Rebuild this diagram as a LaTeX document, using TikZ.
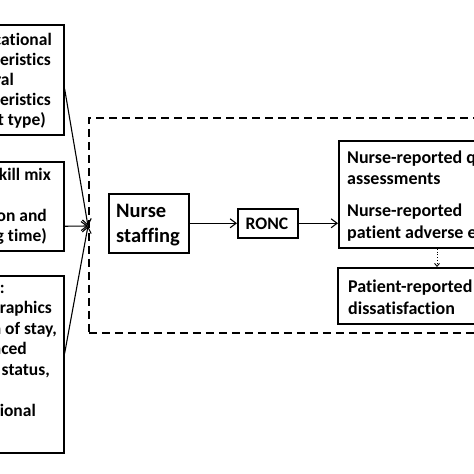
\documentclass[tikz,border=0pt]{standalone}
\usepackage{fontspec}
\setmainfont{Carlito}[Ligatures={NoCommon}]
\usetikzlibrary{arrows.meta,calc}
\begin{document}
\begin{tikzpicture}[x=1pt,y=-1pt,
  box/.style={draw,line width=1.6pt,inner sep=0pt,anchor=north west},
  lbl/.style={inner sep=0pt,font=\fontsize{17.5}{20}\selectfont\bfseries},
  mlbl/.style={inner sep=0pt,font=\fontsize{18}{22}\selectfont\bfseries},
  arr/.style={line width=1.1pt,-{Straight Barb[length=6pt,width=9pt]}},
  dotarr/.style={line width=0.9pt,dotted,-{Straight Barb[length=3pt,width=5pt]}},
  frame/.style={draw,line width=1.6pt,dash pattern=on 8pt off 5pt,inner sep=0pt,anchor=north west}]
\useasboundingbox (0,0) rectangle (474,474);
\fill[white] (0,0) rectangle (474,474);
\clip (0,0) rectangle (474,474);

% dashed frame
\node[frame,minimum width=420pt,minimum height=215pt] (fr) at (88,117) {};

% left boxes
\node[box,minimum width=123pt,minimum height=110pt] (b1) at (-60,24) {};
\node[lbl,anchor=base east] (b1l1) at (52,45) {Nurse educational};
\node[lbl,anchor=base east] (b1l2) at (51,65) {characteristics};
\node[lbl,anchor=base east] (b1l3) at (14,85) {Structural};
\node[lbl,anchor=base east] (b1l4) at (51,105) {characteristics};
\node[lbl,anchor=base east] (b1l5) at (46,125) {(unit type)};

\node[box,minimum width=123pt,minimum height=89pt] (b2) at (-60,161) {};
\node[lbl,anchor=base east] (b2l1) at (51,180) {Nurse staffing, skill mix};
\node[lbl,anchor=base east] (b2l3) at (47,221) {(education and};
\node[lbl,anchor=base east] (b2l4) at (47,241) {working time)};

\node[box,minimum width=123pt,minimum height=177pt] (b3) at (-60,275) {};
\node[lbl,anchor=base east] (b3l1) at (5,293) {Patient characteristics:};
\node[lbl,anchor=base east] (b3l2) at (52,313.5) {demographics};
\node[lbl,anchor=base east] (b3l3) at (57,334) {length of stay,};
\node[lbl,anchor=base east] (b3l4) at (27,354.5) {experienced};
\node[lbl,anchor=base east] (b3l5) at (50,375) {health status,};
\node[lbl,anchor=base east] (b3l7) at (36,416) {functional};

% inner boxes
\node[box,minimum width=80pt,minimum height=59pt] (ns) at (108,193) {};
\node[inner sep=0pt,anchor=base west,font=\fontsize{20.5}{25}\selectfont\bfseries] (nst1) at (116,217) {Nurse};
\node[inner sep=0pt,anchor=base west,font=\fontsize{20.5}{25}\selectfont\bfseries] (nst2) at (116,242) {staffing};

\node[box,minimum width=60pt,minimum height=29pt] (ronc) at (237,208) {};
\node[mlbl,anchor=base,font=\fontsize{17.6}{20}\selectfont\bfseries] (ronct) at (267,229) {RONC};

\node[box,minimum width=170pt,minimum height=107pt] (nr) at (338,140) {};
\node[mlbl,anchor=base west] (nr1) at (347,163) {Nurse-reported quality};
\node[mlbl,anchor=base west] (nr2) at (347,184) {assessments};
\node[mlbl,anchor=base west] (nr3) at (347,216) {Nurse-reported};
\node[mlbl,anchor=base west] (nr4) at (347,238) {patient adverse events};

\node[box,minimum width=170pt,minimum height=56pt] (pr) at (337,267) {};
\node[mlbl,anchor=base west] (pr1) at (348,292) {Patient-reported};
\node[mlbl,anchor=base west] (pr2) at (348,314) {dissatisfaction};

% connectors
\coordinate (conv) at (88,226);
\draw[arr] ($(b1.north east)!0.58!(b1.south east)$) -- (conv);
\draw[arr] ($(b2.north east)!0.72!(b2.south east)$) -- (conv);
\draw[arr] ($(b3.north east)!0.44!(b3.south east)$) -- (conv);
\draw[arr] (ns.east) -- (ronc.west);
\draw[arr] (ronc.east) -- (ronc.east -| nr.west);
\draw[dotarr] ($(nr.south west)+(99,0)$) -- ($(pr.north west)+(100,0)$);
\end{tikzpicture}
\end{document}
